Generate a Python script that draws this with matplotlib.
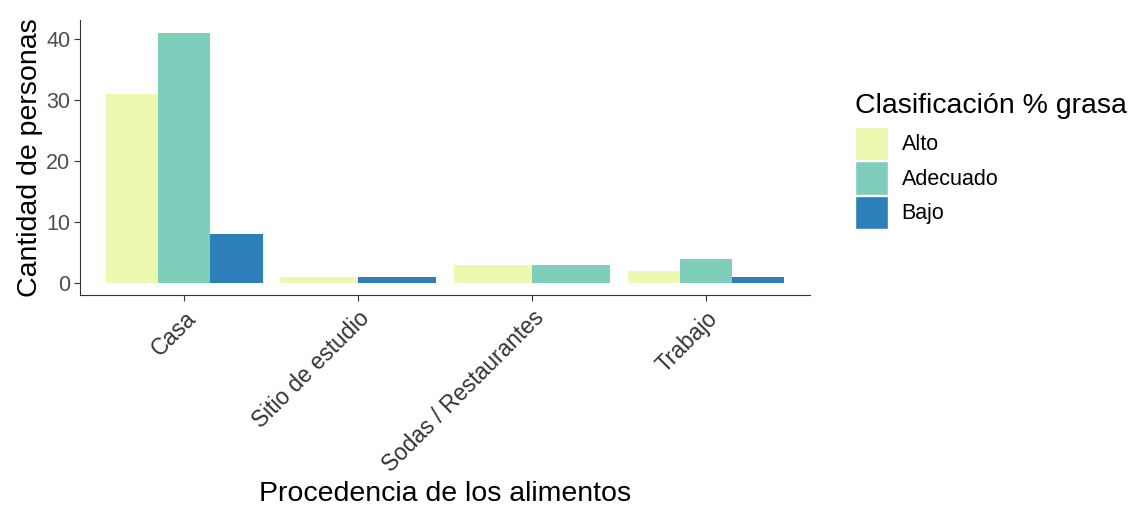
import numpy as np
import matplotlib
matplotlib.use('Agg')
import matplotlib.pyplot as plt
import matplotlib.transforms as mtransforms
from matplotlib.patches import Patch

plt.rcParams['font.family'] = ['Liberation Sans', 'DejaVu Sans']

# --- datos ---
lugares = ['Casa', 'Sitio de estudio', 'Sodas / Restaurantes', 'Trabajo']
clases = ['Alto', 'Adecuado', 'Bajo']
alto = [31, 1, 3, 2]
adecuado = [41, None, 3, 4]
bajo = [8, 1, None, 1]
colores = ['#EDF8B1', '#7FCDBB', '#2C7FB8']

series = [alto, adecuado, bajo]

fig = plt.figure(figsize=(11.32, 5.09), dpi=100)
ax = fig.add_axes([0.0707, 0.4195, 0.645, 0.541])

# dodge al estilo ggplot: el ancho 0.9 se reparte entre las barras presentes
for i, lugar in enumerate(lugares):
    presentes = [k for k in range(len(clases)) if series[k][i] is not None]
    n = len(presentes)
    w = 0.9 / n
    for j, k in enumerate(presentes):
        x = (i + 1) - 0.45 + w * (j + 0.5)
        ax.bar(x, series[k][i], width=w, color=colores[k], edgecolor='none')

ax.set_xlim(0.4, 4.6)
ax.set_ylim(-41 * 0.05, 41 * 1.05)
ax.set_xticks(range(1, len(lugares) + 1))
ax.set_xticklabels(lugares, rotation=45, ha='right', va='top',
                   rotation_mode='anchor', fontsize=16.3, color='#4D4D4D')
# desplazar un poco las etiquetas rotadas (como hjust/vjust de ggplot)
desplaza = mtransforms.ScaledTranslation(8 / 100, -6 / 100, fig.dpi_scale_trans)
for lab in ax.get_xticklabels():
    lab.set_transform(lab.get_transform() + desplaza)
ax.set_yticks([0, 10, 20, 30, 40])
ax.tick_params(axis='y', labelsize=15.5, labelcolor='#4D4D4D', colors='#333333', length=4, pad=3)
ax.tick_params(axis='x', colors='#333333', length=4, pad=4)
ax.spines['top'].set_visible(False)
ax.spines['right'].set_visible(False)
ax.spines['left'].set_color('#333333')
ax.spines['bottom'].set_color('#333333')
ax.set_xlabel('Procedencia de los alimentos', fontsize=20.5)
ax.set_ylabel('Cantidad de personas', fontsize=20.5, labelpad=2)
ax.xaxis.set_label_coords(0.5, -0.675)

handles = [Patch(facecolor=c, edgecolor='white', label=l) for c, l in zip(colores, clases)]
leg = fig.legend(handles=handles, title='Clasificación % grasa', loc='upper left',
                 bbox_to_anchor=(0.748, 0.835), frameon=False, fontsize=15.5,
                 title_fontsize=20.5, handlelength=1.5, handleheight=2.0,
                 handletextpad=0.65, labelspacing=0.06, borderaxespad=0)
leg._legend_box.align = 'left'
leg._legend_box.sep = 6

fig.savefig('out.png', dpi=100)
